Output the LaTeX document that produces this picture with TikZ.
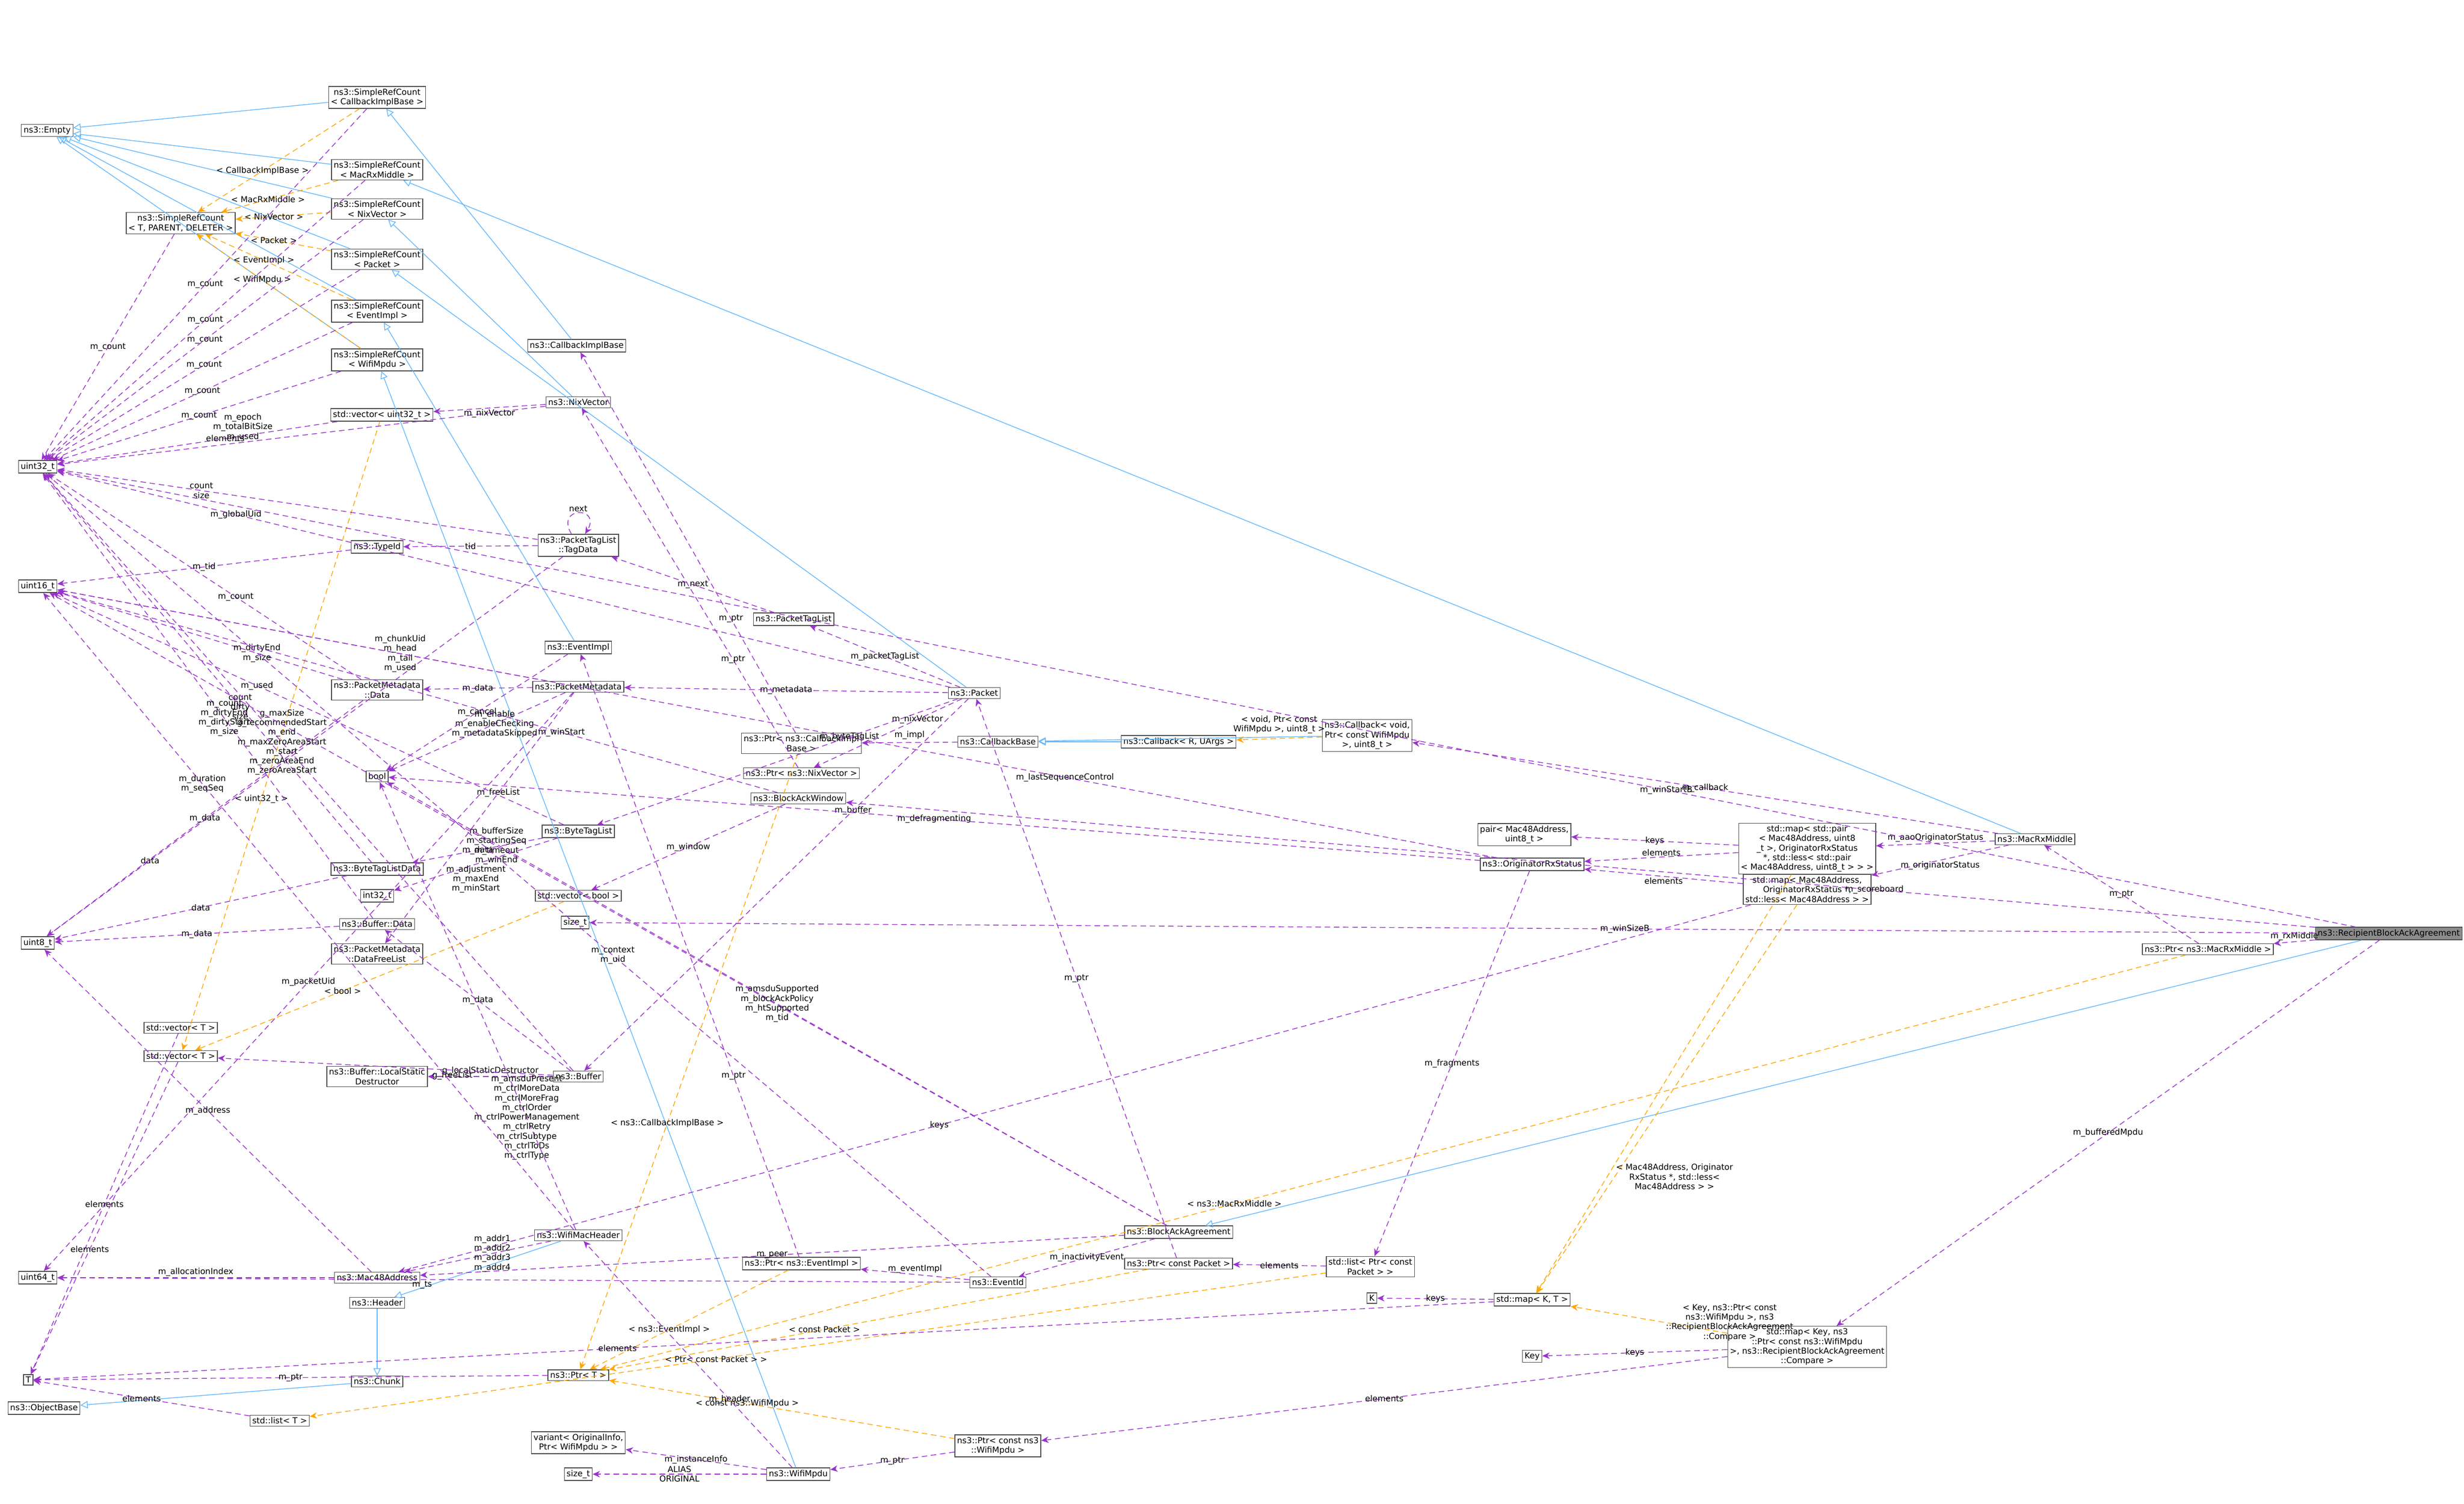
\documentclass[tikz,border=0pt]{standalone}
\usepackage{fontspec}
\setmainfont{DejaVu Sans}
\usetikzlibrary{arrows.meta}
\definecolor{inhcol}{HTML}{63B8FF}
\definecolor{usecol}{HTML}{9A32CD}
\definecolor{tplcol}{HTML}{FFA500}
\tikzset{
  cls/.style={draw=black!70, fill=white, inner sep=1.2pt, align=center, font=\fontsize{4.5}{5.2}\selectfont},
  inh/.style={draw=inhcol, -{Triangle[open,length=4pt,width=4pt]}},
  use/.style={draw=usecol, densely dashed, -{Stealth[length=4pt,width=3.5pt]}},
  tpl/.style={draw=tplcol, densely dashed, -{Stealth[length=4pt,width=3.5pt]}},
  lbl/.style={font=\fontsize{4.5}{5.2}\selectfont, align=center, inner sep=0.5pt, text=black}
}
\begin{document}
\begin{tikzpicture}[x=0.03cm,y=-0.03cm]
        \useasboundingbox (0,0) rectangle (1568,956.7);

        % class boxes
        \node[cls] (emptyc) at (30,83) {ns3::Empty};
        \node[cls] (srcCb) at (240,62) {ns3::SimpleRefCount\\< CallbackImplBase >};
        \node[cls] (srcMac) at (240,108) {ns3::SimpleRefCount\\< MacRxMiddle >};
        \node[cls] (srcT) at (115,142) {ns3::SimpleRefCount\\< T, PARENT, DELETER >};
        \node[cls] (srcNix) at (240,133) {ns3::SimpleRefCount\\< NixVector >};
        \node[cls] (srcPkt) at (240,165) {ns3::SimpleRefCount\\< Packet >};
        \node[cls] (srcEv) at (240,198) {ns3::SimpleRefCount\\< EventImpl >};
        \node[cls] (srcMpdu) at (240,229) {ns3::SimpleRefCount\\< WifiMpdu >};
        \node[cls] (cbImpl) at (367,220) {ns3::CallbackImplBase};
        \node[cls] (vecU32) at (243,264) {std::vector< uint32\_t >};
        \node[cls] (nixVec) at (368,256) {ns3::NixVector};
        \node[cls] (u32) at (24,297) {uint32\_t};
        \node[cls] (tagData) at (368,347) {ns3::PacketTagList\\::TagData};
        \node[cls] (typeId) at (240,348) {ns3::TypeId};
        \node[cls] (u16) at (24,373) {uint16\_t};
        \node[cls] (tagList) at (505,394) {ns3::PacketTagList};
        \node[cls] (evImpl) at (368,412) {ns3::EventImpl};
        \node[cls] (pmData) at (240,439) {ns3::PacketMetadata\\::Data};
        \node[cls] (pmeta) at (368,437) {ns3::PacketMetadata};
        \node[cls] (packet) at (620,441) {ns3::Packet};
        \node[cls] (ptrCb) at (510,473) {ns3::Ptr< ns3::CallbackImpl\\Base >};
        \node[cls] (cbBase) at (635,472) {ns3::CallbackBase};
        \node[cls] (cbRU) at (750,472) {ns3::Callback< R, UArgs >};
        \node[cls] (cbVoid) at (870,468) {ns3::Callback< void,\\ Ptr< const WifiMpdu\\ >, uint8\_t >};
        \node[cls] (ptrNix) at (510,492) {ns3::Ptr< ns3::NixVector >};
        \node[cls] (boolT) at (240,494) {bool};
        \node[cls] (baWin) at (508,508) {ns3::BlockAckWindow};
        \node[cls] (byteTag) at (368,529) {ns3::ByteTagList};
        \node[cls] (pairMac) at (970,531) {pair< Mac48Address,\\ uint8\_t >};
        \node[cls] (mapPair) at (1150,540) {std::map< std::pair\\< Mac48Address, uint8\\\_t >, OriginatorRxStatus\\ *, std::less< std::pair\\< Mac48Address, uint8\_t > > >};
        \node[cls] (macRx) at (1295,534) {ns3::MacRxMiddle};
        \node[cls] (btlData) at (240,553) {ns3::ByteTagListData};
        \node[cls] (origRx) at (975,550) {ns3::OriginatorRxStatus};
        \node[cls] (i32) at (240,570) {int32\_t};
        \node[cls] (vecBool) at (368,570) {std::vector< bool >};
        \node[cls] (mapMac) at (1150,566) {std::map< Mac48Address,\\ OriginatorRxStatus *,\\ std::less< Mac48Address > >};
        \node[cls] (sizeA) at (366,587) {size\_t};
        \node[cls] (bufData) at (240,588) {ns3::Buffer::Data};
        \node[cls] (u8) at (24,600) {uint8\_t};
        \node[cls] (pmFree) at (240,607) {ns3::PacketMetadata\\::DataFreeList};
        \node[cls, fill=black!45, anchor=east] (rbaa) at (1567,594) {ns3::RecipientBlockAckAgreement};
        \node[cls] (ptrMac) at (1405,604) {ns3::Ptr< ns3::MacRxMiddle >};
        \node[cls] (vecT1) at (115,654) {std::vector< T >};
        \node[cls] (vecT2) at (115,672) {std::vector< T >};
        \node[cls] (bufLsd) at (240,685) {ns3::Buffer::LocalStatic\\Destructor};
        \node[cls] (buffer) at (368,685) {ns3::Buffer};
        \node[cls] (wifiHdr) at (368,786) {ns3::WifiMacHeader};
        \node[cls] (baAgr) at (750,784) {ns3::BlockAckAgreement};
        \node[cls] (u64) at (24,813) {uint64\_t};
        \node[cls] (mac48) at (240,813) {ns3::Mac48Address};
        \node[cls] (ptrEv) at (510,804) {ns3::Ptr< ns3::EventImpl >};
        \node[cls] (eventId) at (635,816) {ns3::EventId};
        \node[cls] (ptrPkt) at (750,804) {ns3::Ptr< const Packet >};
        \node[cls] (listPkt) at (872,806) {std::list< Ptr< const\\ Packet > >};
        \node[cls] (header) at (240,829) {ns3::Header};
        \node[cls] (kT) at (873,826) {K};
        \node[cls] (mapKT) at (975,827) {std::map< K, T >};
        \node[cls] (tT) at (18,878) {T};
        \node[cls] (ptrT) at (368,875) {ns3::Ptr< T >};
        \node[cls] (chunk) at (240,879) {ns3::Chunk};
        \node[cls] (mapKey) at (1150,857) {std::map< Key, ns3\\::Ptr< const ns3::WifiMpdu\\ >, ns3::RecipientBlockAckAgreement\\::Compare >};
        \node[cls] (keyT) at (975,863) {Key};
        \node[cls] (objBase) at (28,896) {ns3::ObjectBase};
        \node[cls] (listT) at (178,904) {std::list< T >};
        \node[cls] (variantT) at (368,918) {variant< OriginalInfo,\\ Ptr< WifiMpdu > >};
        \node[cls] (ptrMpdu) at (635,920) {ns3::Ptr< const ns3\\::WifiMpdu >};
        \node[cls] (sizeB) at (368,938) {size\_t};
        \node[cls] (wifiMpdu) at (508,938) {ns3::WifiMpdu};

        % inheritance
        \foreach \a/\b in {srcCb/emptyc, srcMac/emptyc, srcNix/emptyc, srcPkt/emptyc, srcEv/emptyc,
            srcMpdu/emptyc, cbImpl/srcCb, nixVec/srcNix, packet/srcPkt, evImpl/srcEv, wifiMpdu/srcMpdu,
            macRx/srcMac, cbRU/cbBase, cbVoid/cbBase, rbaa/baAgr, wifiHdr/header, header/chunk, chunk/objBase}
                \draw[inh] (\a) -- (\b);

        % template instances
        \foreach \a/\b/\t in {srcCb/srcT/< CallbackImplBase >, srcMac/srcT/< MacRxMiddle >,
            srcNix/srcT/< NixVector >, srcPkt/srcT/< Packet >, srcEv/srcT/< EventImpl >,
            srcMpdu/srcT/< WifiMpdu >, vecU32/vecT2/< uint32\_t >, vecBool/vecT2/< bool >,
            ptrCb/ptrT/< ns3::CallbackImplBase >, ptrEv/ptrT/< ns3::EventImpl >,
            ptrPkt/ptrT/< const Packet >, ptrMpdu/ptrT/< const ns3::WifiMpdu >,
            ptrMac/ptrT/< ns3::MacRxMiddle >, listPkt/listT/< Ptr< const Packet > >}
                \draw[tpl] (\a) -- node[lbl, pos=0.6] {\t} (\b);
        \draw[tpl] (cbVoid) -- node[lbl, above=2pt] {< void, Ptr< const\\ WifiMpdu >, uint8\_t >} (cbRU);
        \draw[tpl] (mapMac) -- node[lbl, pos=0.7, right] {< Mac48Address, Originator\\RxStatus *, std::less<\\ Mac48Address > >} (mapKT);
        \draw[tpl] (mapPair) -- (mapKT);
        \draw[tpl] (mapKey) -- node[lbl, pos=0.4, right] {< Key, ns3::Ptr< const\\ ns3::WifiMpdu >, ns3\\::RecipientBlockAckAgreement\\::Compare >} (mapKT);

        % members
        \foreach \a in {srcT, srcCb, srcMac, srcNix, srcPkt, srcEv, srcMpdu}
                \draw[use] (\a) -- node[lbl, pos=0.5] {m\_count} (u32);
        \draw[use] (vecU32) -- node[lbl, pos=0.4] {elements} (u32);
        \draw[use] (nixVec) -- node[lbl, pos=0.62, above] {m\_epoch\\m\_totalBitSize\\m\_used} (u32);
        \draw[use] (nixVec) -- node[lbl, below] {m\_nixVector} (vecU32);
        \draw[use] (tagData) -- node[lbl, pos=0.7] {count\\size} (u32);
        \draw[use] (tagData) .. controls +(-15,-25) and +(15,-25) .. node[lbl, above] {next} (tagData);
        \draw[use] (tagData) -- node[lbl] {tid} (typeId);
        \draw[use] (tagData) -- node[lbl, pos=0.8] {data} (u8);
        \draw[use] (typeId) -- node[lbl] {m\_tid} (u16);
        \draw[use] (tagList) -- node[lbl] {m\_next} (tagData);
        \draw[use] (pmData) -- node[lbl, pos=0.4] {m\_count} (u32);
        \draw[use] (pmData) -- node[lbl, pos=0.3] {m\_dirtyEnd\\m\_size} (u16);
        \draw[use] (pmData) -- node[lbl, pos=0.5] {m\_data} (u8);
        \draw[use] (pmeta) -- node[lbl] {m\_data} (pmData);
        \draw[use] (pmeta) -- node[lbl, pos=0.3] {m\_chunkUid\\m\_head\\m\_tail\\m\_used} (u16);
        \draw[use] (pmeta) -- node[lbl, pos=0.4] {m\_enable\\m\_enableChecking\\m\_metadataSkipped} (boolT);
        \draw[use] (pmeta) -- node[lbl, pos=0.4] {m\_freeList} (pmFree);
        \draw[use] (pmeta) -- node[lbl, pos=0.5] {m\_packetUid} (u64);
        \draw[use] (evImpl) -- node[lbl] {m\_cancel} (boolT);
        \draw[use] (packet) -- node[lbl] {m\_packetTagList} (tagList);
        \draw[use] (packet) -- node[lbl] {m\_metadata} (pmeta);
        \draw[use] (packet) -- node[lbl, pos=0.3] {m\_byteTagList} (byteTag);
        \draw[use] (packet) -- node[lbl, pos=0.3] {m\_nixVector} (ptrNix);
        \draw[use] (packet) -- node[lbl, pos=0.3] {m\_buffer} (buffer);
        \draw[use] (packet) -- node[lbl, pos=0.8] {m\_globalUid} (u32);
        \draw[use] (ptrCb) -- node[lbl, pos=0.3] {m\_ptr} (cbImpl);
        \draw[use] (cbBase) -- node[lbl, above=1pt] {m\_impl} (ptrCb);
        \draw[use] (ptrNix) -- node[lbl, pos=0.3] {m\_ptr} (nixVec);
        \draw[use] (baWin) -- node[lbl] {m\_window} (vecBool);
        \draw[use] (baWin) -- node[lbl, pos=0.3] {m\_winStart} (u16);
        \draw[use] (byteTag) -- node[lbl] {m\_data} (btlData);
        \draw[use] (byteTag) -- node[lbl, pos=0.6] {m\_used} (u16);
        \draw[use] (byteTag) -- node[lbl, below] {m\_adjustment\\m\_maxEnd\\m\_minStart} (i32);
        \draw[use] (btlData) -- node[lbl, pos=0.4] {count\\dirty\\size} (u32);
        \draw[use] (btlData) -- node[lbl] {data} (u8);
        \draw[use] (bufData) -- node[lbl, pos=0.45] {m\_count\\m\_dirtyEnd\\m\_dirtyStart\\m\_size} (u32);
        \draw[use] (bufData) -- node[lbl] {m\_data} (u8);
        \draw[use] (buffer) -- node[lbl] {m\_data} (bufData);
        \draw[use] (buffer) -- node[lbl, above] {g\_localStaticDestructor} (bufLsd);
        \draw[use] (buffer) -- node[lbl, pos=0.3, below] {g\_freeList} (vecT2);
        \draw[use] (buffer) -- node[lbl, pos=0.55] {g\_maxSize\\g\_recommendedStart\\m\_end\\m\_maxZeroAreaStart\\m\_start\\m\_zeroAreaEnd\\m\_zeroAreaStart} (u32);
        \draw[use] (vecT1) -- node[lbl] {elements} (tT);
        \draw[use] (vecT2) -- node[lbl, pos=0.6] {elements} (tT);
        \draw[use] (listT) -- node[lbl] {elements} (tT);
        \draw[use] (mapKT) -- node[lbl] {keys} (kT);
        \draw[use] (mapKT) -- node[lbl, pos=0.6] {elements} (tT);
        \draw[use] (mapKey) -- node[lbl] {keys} (keyT);
        \draw[use] (mapKey) -- node[lbl] {elements} (ptrMpdu);
        \draw[use] (mapPair) -- node[lbl] {keys} (pairMac);
        \draw[use] (mapPair) -- node[lbl, above] {elements} (origRx);
        \draw[use] (mapMac) -- node[lbl, below] {elements} (origRx);
        \draw[use] (mapMac) -- node[lbl, pos=0.6] {keys} (mac48);
        \draw[use] (origRx) -- node[lbl] {m\_defragmenting} (boolT);
        \draw[use] (origRx) -- node[lbl, pos=0.3] {m\_lastSequenceControl} (u16);
        \draw[use] (origRx) -- node[lbl] {m\_fragments} (listPkt);
        \draw[use] (macRx) -- node[lbl, above] {m\_aaoOriginatorStatus} (mapPair);
        \draw[use] (macRx) -- node[lbl, below] {m\_originatorStatus} (mapMac);
        \draw[use] (macRx) -- node[lbl] {m\_callback} (cbVoid);
        \draw[use] (ptrMac) -- node[lbl] {m\_ptr} (macRx);
        \draw[use] (rbaa) -- node[lbl, above] {m\_rxMiddle} (ptrMac);
        \draw[use] (rbaa) -- node[lbl] {m\_bufferedMpdu} (mapKey);
        \draw[use] (rbaa) -- node[lbl, pos=0.3] {m\_scoreboard} (baWin);
        \draw[use] (rbaa) -- node[lbl, pos=0.3] {m\_winStartB} (u32);
        \draw[use] (rbaa) -- node[lbl, pos=0.4] {m\_winSizeB} (sizeA);
        \draw[use] (baAgr) -- node[lbl] {m\_peer} (mac48);
        \draw[use] (baAgr) -- node[lbl, pos=0.6] {m\_bufferSize\\m\_startingSeq\\m\_timeout\\m\_winEnd} (u16);
        \draw[use] (baAgr) -- node[lbl, pos=0.5] {m\_amsduSupported\\m\_blockAckPolicy\\m\_htSupported\\m\_tid} (boolT);
        \draw[use] (baAgr) -- node[lbl] {m\_inactivityEvent} (eventId);
        \draw[use] (wifiHdr) -- node[lbl, pos=0.4] {m\_addr1\\m\_addr2\\m\_addr3\\m\_addr4} (mac48);
        \draw[use] (wifiHdr) -- node[lbl, pos=0.25] {m\_amsduPresent\\m\_ctrlMoreData\\m\_ctrlMoreFrag\\m\_ctrlOrder\\m\_ctrlPowerManagement\\m\_ctrlRetry\\m\_ctrlSubtype\\m\_ctrlToDs\\m\_ctrlType} (boolT);
        \draw[use] (wifiHdr) -- node[lbl, pos=0.7] {m\_duration\\m\_seqSeq} (u16);
        \draw[use] (mac48) -- node[lbl] {m\_address} (u8);
        \draw[use] (mac48) -- node[lbl, above] {m\_allocationIndex} (u64);
        \draw[use] (eventId) -- node[lbl, above] {m\_eventImpl} (ptrEv);
        \draw[use] (eventId) -- node[lbl, pos=0.6, below] {m\_ts} (u64);
        \draw[use] (eventId) -- node[lbl, pos=0.4] {m\_context\\m\_uid} (u32);
        \draw[use] (ptrEv) -- node[lbl, pos=0.3] {m\_ptr} (evImpl);
        \draw[use] (ptrPkt) -- node[lbl] {m\_ptr} (packet);
        \draw[use] (listPkt) -- node[lbl] {elements} (ptrPkt);
        \draw[use] (ptrT) -- node[lbl] {m\_ptr} (tT);
        \draw[use] (ptrMpdu) -- node[lbl] {m\_ptr} (wifiMpdu);
        \draw[use] (wifiMpdu) -- node[lbl, pos=0.3] {m\_header} (wifiHdr);
        \draw[use] (wifiMpdu) -- node[lbl] {m\_instanceInfo} (variantT);
        \draw[use] (wifiMpdu) -- node[lbl] {ALIAS\\ORIGINAL} (sizeB);
\end{tikzpicture}
\end{document}
